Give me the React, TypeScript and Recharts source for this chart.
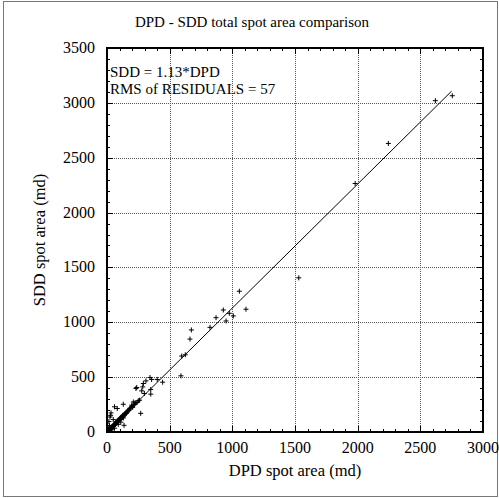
import React from "react";
import { ReferenceLine, Scatter, ScatterChart, XAxis, YAxis } from "recharts";

const X_MAJOR = [0, 500, 1000, 1500, 2000, 2500, 3000];
const Y_MAJOR = [0, 500, 1000, 1500, 2000, 2500, 3000, 3500];
const X_TICKS = Array.from({ length: 31 }, (_, i) => i * 100);
const Y_TICKS = Array.from({ length: 36 }, (_, i) => i * 100);
const X_MAX = 3000;
const Y_MAX = 3500;

const FIT_SLOPE = 1.13;
const FIT_END = 2750;

// DPD (x) vs SDD (y) spot areas
const DPD = [
  2755, 2620, 2245, 1980, 1530, 1056, 1109, 928, 976, 1008, 870, 950, 822, 673, 662, 596, 625, 590,
  444, 401, 356, 343, 311, 290, 285, 237, 349, 349, 277, 231, 298, 210, 223, 197, 130, 60, 269, 32,
  24, 50, 130, 82, 29, 136,
  2, 5, 8, 10, 12, 15, 18, 20, 22, 25, 28, 30, 33, 35, 38, 40, 42, 45, 48, 50, 52, 55, 58, 60, 63,
  65, 68, 70, 73, 75, 78, 80, 83, 85, 88, 90, 93, 95, 98, 100, 105, 108, 110, 115, 118, 120, 125,
  128, 130, 135, 140, 145, 150, 155, 160, 165, 170, 175, 180, 185, 190, 200, 205, 210, 220, 230,
  240, 250, 260, 10, 20, 15, 40, 60, 90, 110, 3, 0, 1, 6,
];
const SDD = [
  3065, 3020, 2630, 2265, 1405, 1283, 1119, 1112, 1082, 1058, 1042, 1012, 954, 930, 847, 692, 704,
  512, 454, 479, 479, 497, 466, 442, 411, 406, 388, 345, 375, 397, 351, 274, 265, 244, 253, 230, 170,
  174, 137, 113, 128, 214, 152, 61,
  3, 4, 10, 7, 15, 12, 22, 18, 25, 30, 24, 36, 40, 32, 45, 42, 50, 48, 55, 60, 52, 64, 68, 62, 75,
  70, 80, 78, 85, 90, 82, 95, 100, 92, 105, 98, 110, 104, 118, 112, 125, 115, 130, 128, 140, 132,
  150, 138, 155, 148, 165, 160, 175, 170, 185, 190, 200, 195, 210, 215, 220, 230, 225, 245, 250, 265,
  270, 285, 290, 40, 60, 95, 20, 35, 70, 90, 0, 0, 2, 1,
];

const points = DPD.map((x, i) => ({ x, y: SDD[i] }));

const W = 499;
const H = 498;
const MARGIN = { top: 48, right: 16 };
const Y_AXIS_W = 107;
const X_AXIS_H = 66;
// plot box, same numbers the chart uses for its layout
const PL = Y_AXIS_W;
const PR = W - MARGIN.right;
const PT = MARGIN.top;
const PB = H - X_AXIS_H;
const px = (v: number) => Math.round(PL + (v / X_MAX) * (PR - PL));
const py = (v: number) => Math.round(PB - (v / Y_MAX) * (PB - PT));

const tickLen = (v: number) => (v % 500 === 0 ? 6 : 3);

const FONT = "Liberation Serif";
const txt = { fontFamily: FONT, fill: "#000" };

const abs = (s: React.CSSProperties): React.CSSProperties => ({ position: "absolute", ...s });

const Plus = (props: any) => {
  const { cx, cy } = props;
  return (
    <path
      d={`M${cx - 2.5},${cy}h5M${cx},${cy - 2.5}v5`}
      stroke="#000"
      strokeWidth={1}
      fill="none"
    />
  );
};

const BottomTick = (props: any) => {
  const { x, y, payload } = props;
  const v = payload.value;
  if (v % 500 !== 0) return <g />;
  return (
    <text x={x} y={y + 21} textAnchor="middle" fontSize={16} style={txt}>
      {v}
    </text>
  );
};

const LeftTick = (props: any) => {
  const { x, y, payload } = props;
  const v = payload.value;
  if (v % 500 !== 0) return <g />;
  return (
    <text x={x - 12} y={y + 5} textAnchor="end" fontSize={16} style={txt}>
      {v}
    </text>
  );
};

export default function App() {
  return (
    <div style={abs({ left: 0, top: 0, width: W, height: H, background: "#fff", overflow: "hidden" })}>
      <div style={abs({ left: 3, top: 1, width: 493, height: 494, border: "1px solid #777" })} />
      {/* dotted grid below the chart */}
      {X_MAJOR.slice(1, -1).map((v) => (
        <div
          key={`gx${v}`}
          style={abs({ left: px(v), top: PT, width: 0, height: PB - PT, borderLeft: "1px dotted #555" })}
        />
      ))}
      {Y_MAJOR.slice(1, -1).map((v) => (
        <div
          key={`gy${v}`}
          style={abs({ left: PL, top: py(v), width: PR - PL, height: 0, borderTop: "1px dotted #555" })}
        />
      ))}
      <div style={abs({ left: 0, top: 0 })}>
        <ScatterChart
          width={W}
          height={H}
          margin={{ top: MARGIN.top, right: MARGIN.right, bottom: 0, left: 0 }}
        >
          <XAxis
            type="number"
            dataKey="x"
            domain={[0, X_MAX]}
            ticks={X_TICKS}
            interval={0}
            tickSize={0}
            tickMargin={0}
            height={X_AXIS_H}
            tick={BottomTick}
            axisLine={false}
            allowDataOverflow
          />
          <YAxis
            type="number"
            dataKey="y"
            domain={[0, Y_MAX]}
            ticks={Y_TICKS}
            interval={0}
            tickSize={0}
            tickMargin={0}
            width={Y_AXIS_W}
            tick={LeftTick}
            axisLine={false}
            allowDataOverflow
          />
          <ReferenceLine
            segment={[
              { x: 0, y: 0 },
              { x: FIT_END, y: FIT_SLOPE * FIT_END },
            ]}
            stroke="#000"
            strokeWidth={1}
            ifOverflow="visible"
          />
          <Scatter data={points} shape={Plus} isAnimationActive={false} />
        </ScatterChart>
      </div>
      {/* plot frame and inward ticks on all four sides */}
      <div
        style={abs({
          left: PL - 1,
          top: PT - 1,
          width: PR - PL + 2,
          height: PB - PT + 2,
          border: "2px solid #000",
          boxSizing: "border-box",
        })}
      />
      {X_TICKS.map((v) => (
        <React.Fragment key={`tx${v}`}>
          <div style={abs({ left: px(v), top: PT, width: 1, height: tickLen(v), background: "#000" })} />
          <div
            style={abs({ left: px(v), top: PB - tickLen(v), width: 1, height: tickLen(v), background: "#000" })}
          />
        </React.Fragment>
      ))}
      {Y_TICKS.map((v) => (
        <React.Fragment key={`ty${v}`}>
          <div style={abs({ left: PL, top: py(v), width: tickLen(v), height: 1, background: "#000" })} />
          <div
            style={abs({ left: PR - tickLen(v), top: py(v), width: tickLen(v), height: 1, background: "#000" })}
          />
        </React.Fragment>
      ))}
      <svg width={W} height={H} style={abs({ left: 0, top: 0, pointerEvents: "none" })}>
        <text x={252} y={27} textAnchor="middle" fontSize={15} style={txt}>
          DPD - SDD total spot area comparison
        </text>
        <text x={110} y={77} fontSize={15} style={txt}>
          SDD = 1.13*DPD
        </text>
        <text x={110} y={94} fontSize={15} style={txt}>
          RMS of RESIDUALS = 57
        </text>
        <text x={295} y={476} textAnchor="middle" fontSize={16.5} style={txt}>
          DPD spot area (md)
        </text>
        <text
          x={0}
          y={0}
          transform="translate(45 240) rotate(-90)"
          textAnchor="middle"
          fontSize={16.5}
          style={txt}
        >
          SDD spot area (md)
        </text>
      </svg>
    </div>
  );
}
